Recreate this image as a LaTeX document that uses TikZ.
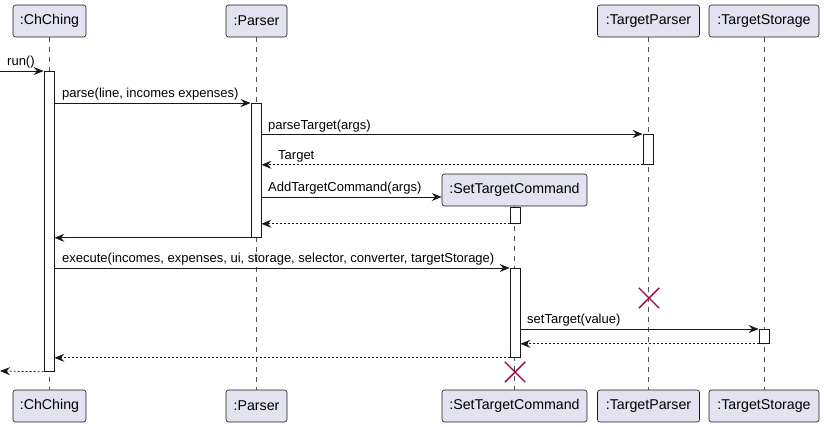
\documentclass[tikz,border=0pt]{standalone}
\usepackage{fontspec}
\setmainfont{Liberation Sans}
\usetikzlibrary{arrows.meta,shapes.misc}
\definecolor{pfill}{HTML}{E2E2F0}
\definecolor{pline}{HTML}{181818}
\definecolor{xred}{HTML}{A80036}
\tikzset{
  part/.style={draw=pline, fill=pfill, rounded corners=2.5pt, line width=0.6pt,
    minimum height=32pt, inner xsep=0pt, font=\fontsize{14.2}{16}\selectfont, text=black},
  life/.style={draw=pline!75, line width=0.5pt, dash pattern=on 5pt off 5pt},
  act/.style={draw=pline, fill=white, line width=0.8pt, minimum width=10pt, inner sep=0pt, anchor=north},
  msg/.style={draw=pline, line width=0.8pt, -{Stealth[length=10pt,width=8pt,inset=3.5pt]}},
  ret/.style={msg, dash pattern=on 2pt off 2pt},
  lbl/.style={font=\fontsize{13}{15}\selectfont, inner sep=0pt, anchor=base west, text=black},
  kill/.style={cross out, draw=xred, line width=1.4pt, minimum size=19pt, inner sep=0pt}
}
\begin{document}
\begin{tikzpicture}[x=1pt,y=-1pt]
\useasboundingbox (0,0) rectangle (824,426);
% participants
\node[part, minimum width=73pt] (ch) at (49.5,21) {:ChChing};
\node[part, minimum width=61pt] (pa) at (256.5,21) {:Parser};
\node[part, minimum width=102pt] (tp) at (648.5,21) {:TargetParser};
\node[part, minimum width=110pt] (ts) at (764,21) {:TargetStorage};
\node[part, minimum width=145pt] (sc) at (514.5,190) {:SetTargetCommand};
\node[part, minimum width=73pt] (chb) at (49.5,406) {:ChChing};
\node[part, minimum width=61pt] (pab) at (256.5,406) {:Parser};
\node[part, minimum width=145pt] (scb) at (514.5,406) {:SetTargetCommand};
\node[part, minimum width=102pt] (tpb) at (648.5,406) {:TargetParser};
\node[part, minimum width=110pt] (tsb) at (764,406) {:TargetStorage};
% lifelines
\draw[life] (ch.south) -- (chb.north);
\draw[life] (pa.south) -- (pab.north);
\draw[life] (tp.south) -- (tpb.north);
\draw[life] (ts.south) -- (tsb.north);
\draw[life] (sc.south) -- (scb.north);
% activations
\node[act, minimum height=300pt] (ach) at (49,71) {};
\node[act, minimum height=134pt] (apa) at (256,103) {};
\node[act, minimum height=30pt] (atp) at (648,134) {};
\node[act, minimum height=16pt] (asc1) at (515,207) {};
\node[act, minimum height=89pt] (asc2) at (515,268) {};
\node[act, minimum height=14pt] (ats) at (764,329) {};
% destruction marks
\node[kill] (x1) at (649,298) {};
\node[kill] (x2) at (515,372) {};
% messages
\coordinate (in) at (0,71);
\coordinate (out) at (0,371);
\draw[msg] (in) -- (ach.north west);
\node[lbl] (l1) at (7,65.5) {run()};
\draw[msg] (ach.east |- apa.north) -- (apa.north west);
\node[lbl] (l2) at (62,97.5) {parse(line, incomes expenses)};
\draw[msg] (apa.east |- atp.north) -- (atp.north west);
\node[lbl] (l3) at (268,129) {parseTarget(args)};
\draw[ret] (atp.south west) -- (apa.east |- atp.south);
\node[lbl] (l4) at (278,159.5) {Target};
\draw[msg] (apa.east |- 0,197) -- (sc.west |- 0,197);
\node[lbl] (l5) at (268,191.5) {AddTargetCommand(args)};
\draw[ret] (asc1.south west) -- (apa.east |- asc1.south);
\draw[msg] (apa.south west) -- (ach.east |- apa.south);
\draw[msg] (ach.east |- asc2.north) -- (asc2.north west);
\node[lbl] (l6) at (62,262.5) {execute(incomes, expenses, ui, storage, selector, converter, targetStorage)};
\draw[msg] (asc2.east |- ats.north) -- (ats.north west);
\node[lbl] (l7) at (527,323.5) {setTarget(value)};
\draw[ret] (ats.south west) -- (asc2.east |- ats.south);
\draw[ret] (asc2.south west) -- (ach.east |- asc2.south);
\draw[ret] (ach.south west) -- (out);
\end{tikzpicture}
\end{document}
